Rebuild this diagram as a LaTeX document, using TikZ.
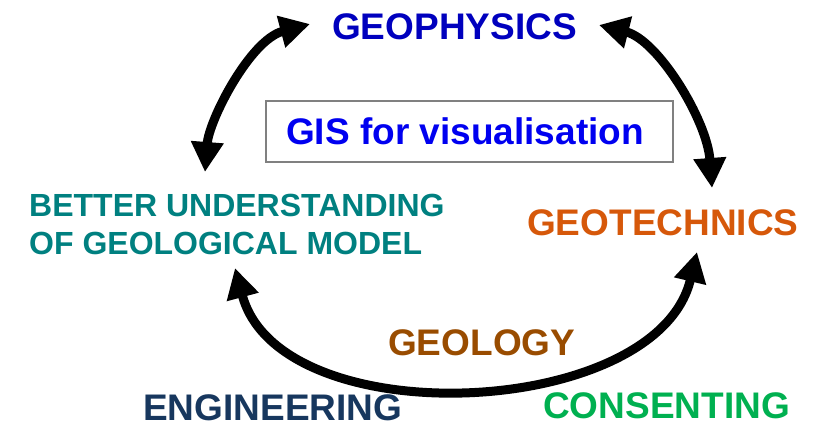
\documentclass[tikz,border=0pt]{standalone}
\usepackage{fontspec}
\setmainfont{Liberation Sans}
\usetikzlibrary{arrows.meta}
\definecolor{cGeophys}{RGB}{0,0,190}
\definecolor{cGis}{RGB}{0,0,240}
\definecolor{cTeal}{RGB}{0,128,128}
\definecolor{cGeotech}{RGB}{214,88,10}
\definecolor{cGeology}{RGB}{153,76,0}
\definecolor{cEng}{RGB}{23,55,94}
\definecolor{cCons}{RGB}{0,176,80}
\definecolor{cBox}{RGB}{128,128,128}
\tikzset{
  lbl/.style={inner sep=0pt, anchor=base west, font=\fontsize{37}{44}\selectfont\bfseries},
  bigarrow/.style={line width=9pt, {Triangle[length=30pt,width=31pt]}-{Triangle[length=30pt,width=31pt]}},
  gisbox/.style={draw=cBox, line width=2pt, minimum width=407pt, minimum height=61pt, inner sep=0pt}
}
\begin{document}
\begin{tikzpicture}[x=1pt,y=-1pt]
\useasboundingbox (0,0) rectangle (825,425);
\node[gisbox] (box) at (469.5,131.5) {};
\node[lbl, text=cGis] (gis) at (286,145) {GIS for visualisation};
\node[lbl, text=cGeophys] (geophys) at (332,40) {GEOPHYSICS};
\node[lbl, text=cGeotech] (geotech) at (527,235) {GEOTECHNICS};
\node[lbl, text=cTeal, align=left, font=\fontsize{32}{38}\selectfont\bfseries] (better) at (29,254) {BETTER UNDERSTANDING\\OF GEOLOGICAL MODEL};
\node[lbl, text=cGeology] (geology) at (388,355) {GEOLOGY};
\node[lbl, text=cEng] (eng) at (143,420) {ENGINEERING};
\node[lbl, text=cCons] (cons) at (543,418) {CONSENTING};
\coordinate (tl1) at (205,172);
\coordinate (tl2) at (310,24);
\coordinate (tr1) at (599,25);
\coordinate (tr2) at (712,188);
\coordinate (b1) at (235,268);
\coordinate (b2) at (697,252);
\draw[bigarrow] (tl1) .. controls (209,120) and (250,40) .. (tl2);
\draw[bigarrow] (tr1) .. controls (658,40) and (707,120) .. (tr2);
\draw[bigarrow] (b1) .. controls (280,436) and (657,420) .. (b2);
\end{tikzpicture}
\end{document}
